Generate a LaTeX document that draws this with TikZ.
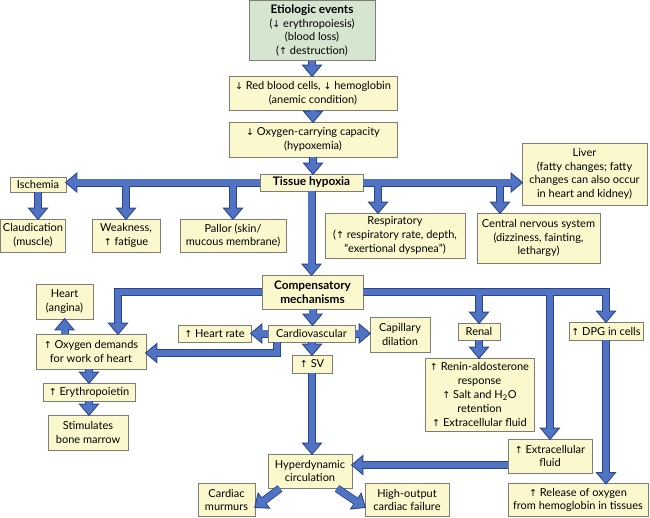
\documentclass[tikz,border=0pt]{standalone}
\usepackage{fontspec}
\setmainfont{Lato}
\newfontfamily\arrowfont{DejaVu Sans}
\usetikzlibrary{arrows.meta}
\definecolor{boxfill}{RGB}{252,248,206}
\definecolor{boxline}{RGB}{125,125,118}
\definecolor{etiofill}{RGB}{213,229,207}
\definecolor{arrfill}{RGB}{80,115,195}
\definecolor{arrline}{RGB}{40,68,140}
\newcommand\upar{{\arrowfont\fontsize{9.5}{10}\selectfont\char"2191}}
\newcommand\dnar{{\arrowfont\fontsize{9.5}{10}\selectfont\char"2193}}
\newcommand\hd[1]{{\fontsize{11.8}{14}\selectfont\bfseries #1}}
\newcommand\allarrows{%
  \draw[arrstyle] (etio.south) -- (etio.south |- rbc.north);
  \draw[arrstyle] (rbc.south) -- (rbc.south |- oxy.north);
  \draw[arrstyle] (oxy.south) -- (oxy.south |- tissue.north);
  \draw[arrstyle] (tissue.west) -- (tissue.west -| isch.east);
  \draw[arrstyle] (tissue.east) -- (tissue.east -| liver.west);
  \draw[arrstyle] (isch.south) -- (isch.south |- claud.north);
  \draw[arrstyle] (weak.north |- tissue.west) -- (weak.north);
  \draw[arrstyle] (pallor.north |- tissue.west) -- (pallor.north);
  \draw[arrstyle] ([xshift=-17pt]resp.north |- tissue.east) -- ([xshift=-17pt]resp.north);
  \draw[arrstyle] ([xshift=-38.5pt]cns.north |- tissue.east) -- ([xshift=-38.5pt]cns.north);
  \draw[arrstyle] (tissue.south) -- (tissue.south |- comp.north);
  \draw[arrstyle] (comp.west) -| ([xshift=27pt]oxyd.north);
  \draw[arrstyle] (comp.east) -| (dpg.north);
  \draw[arrstyle] (renal.north |- comp.east) -- (renal.north);
  \draw[arrstyle] (ecf.north |- comp.east) -- (ecf.north);
  \draw[arrstyle] (comp.south) -- (comp.south |- cardio.north);
  \draw[arrstyle] (cardio.west) -- (cardio.west -| hr.east);
  \draw[arrstyle] (cardio.east) -- (cardio.east -| cap.west);
  \draw[arrstyle] (cardio.south -| sv.north) -- (sv.north);
  \draw[arrstyle] ([xshift=-34.5pt]cardio.south) |- ([yshift=-1.5pt]oxyd.east);
  \draw[arrstyle] (oxyd.north -| heart.south) -- (heart.south);
  \draw[arrstyle] (oxyd.south -| ery.north) -- (ery.north);
  \draw[arrstyle] (ery.south) -- (ery.south |- stim.north);
  \draw[arrstyle] (renal.south) -- (renal.south |- renin.north);
  \draw[arrstyle] (dpg.south) -- (dpg.south |- rel.north);
  \draw[arrstyle] (sv.south) -- (sv.south |- hyper.north);
  \draw[arrstyle] ([yshift=-9pt]ecf.west) -- ([yshift=-9pt]ecf.west -| hyper.east);
  \draw[arrstyle] ([xshift=-30pt]hyper.south) -- ([yshift=-7pt]murm.east);
  \draw[arrstyle] ([xshift=27pt]hyper.south) -- ([yshift=-7pt]hof.west);
}
\begin{document}
\begin{tikzpicture}[x=1pt,y=-1pt,
  box/.style={draw=boxline, fill=boxfill, line width=0.8pt, inner sep=0pt,
    align=center, font=\fontsize{11}{13.8}\selectfont},
  arrO/.style={draw=arrline, line width=8pt, shorten >=-1.6pt,
    -{Triangle[length=12.6pt,width=20.2pt]}},
  arrF/.style={draw=arrfill, line width=6.4pt,
    -{Triangle[length=10pt,width=16pt]}},
]
\fill[white] (0,0) rectangle (650,517);
\useasboundingbox (0,0) rectangle (650,517);

\node[box, fill=etiofill, minimum width=126pt, minimum height=60pt] (etio) at (312,30.5)
  {\hd{Etiologic events}\\(\dnar{} erythropoiesis)\\(blood loss)\\(\upar{} destruction)};
\node[box, minimum width=168pt, minimum height=34pt] (rbc) at (313,93)
  {\dnar{} Red blood cells, \dnar{} hemoglobin\\(anemic condition)};
\node[box, minimum width=168pt, minimum height=35pt] (oxy) at (313,139.5)
  {\dnar{} Oxygen-carrying capacity\\(hypoxemia)};
\node[box, minimum width=103pt, minimum height=17pt] (tissue) at (311.5,182.5)
  {\hd{Tissue hypoxia}};
\node[box, minimum width=56pt, minimum height=15pt] (isch) at (38,184.5) {Ischemia};
\node[box, minimum width=65pt, minimum height=33pt] (claud) at (33,235.5)
  {Claudication\\(muscle)};
\node[box, minimum width=68pt, minimum height=33pt] (weak) at (126,235.5)
  {Weakness,\\\upar{} fatigue};
\node[box, minimum width=106pt, minimum height=33pt] (pallor) at (233,235.5)
  {Pallor (skin/\\mucous membrane)};
\node[box, minimum width=140pt, minimum height=45pt] (resp) at (395,235.5)
  {Respiratory\\(\upar{} respiratory rate, depth,\\“exertional dyspnea”)};
\node[box, minimum width=123pt, minimum height=50pt] (cns) at (538.5,238)
  {Central nervous system\\(dizziness, fainting,\\lethargy)};
\node[box, minimum width=125pt, minimum height=62pt] (liver) at (584.5,174)
  {Liver\\(fatty changes; fatty\\changes can also occur\\in heart and kidney)};
\node[box, minimum width=101pt, minimum height=34pt] (comp) at (312.5,292)
  {\hd{Compensatory}\\\hd{mechanisms}};
\node[box, minimum width=57pt, minimum height=35pt] (heart) at (64.5,301.5)
  {Heart\\(angina)};
\node[box, minimum width=110pt, minimum height=35pt] (oxyd) at (91,351.5)
  {\upar{} Oxygen demands\\for work of heart};
\node[box, minimum width=73pt, minimum height=17pt] (hr) at (214.5,333.5)
  {\upar{} Heart rate};
\node[box, minimum width=87pt, minimum height=17pt] (cardio) at (311.5,333.5)
  {Cardiovascular};
\node[box, minimum width=60pt, minimum height=35pt] (cap) at (400,334.5)
  {Capillary\\dilation};
\node[box, minimum width=40pt, minimum height=18pt] (sv) at (312,364) {\upar{} SV};
\node[box, minimum width=92pt, minimum height=18pt] (ery) at (89,392)
  {\upar{} Erythropoietin};
\node[box, minimum width=80pt, minimum height=35pt] (stim) at (88,432.5)
  {Stimulates\\bone marrow};
\node[box, minimum width=42pt, minimum height=17pt] (renal) at (479,331.5) {Renal};
\node[box, minimum width=109pt, minimum height=73pt] (renin) at (479.5,394.5)
  {\upar{} Renin-aldosterone\\response\\\upar{} Salt and H\textsubscript{2}O\\retention\\\upar{} Extracellular fluid};
\node[box, minimum width=74pt, minimum height=18pt] (dpg) at (606,331)
  {\upar{} DPG in cells};
\node[box, minimum width=84pt, minimum height=34pt] (ecf) at (550,456)
  {\upar{} Extracellular\\fluid};
\node[box, minimum width=140pt, minimum height=33pt] (rel) at (578,500)
  {\upar{} Release of oxygen\\from hemoglobin in tissues};
\node[box, minimum width=84pt, minimum height=34pt] (hyper) at (310,471)
  {Hyperdynamic\\circulation};
\node[box, minimum width=57pt, minimum height=33pt] (murm) at (226.5,500)
  {Cardiac\\murmurs};
\node[box, minimum width=84pt, minimum height=33pt] (hof) at (407,500)
  {High-output\\cardiac failure};

\tikzset{arrstyle/.style=arrO}
\allarrows
\tikzset{arrstyle/.style=arrF}
\allarrows
\end{tikzpicture}
\end{document}
